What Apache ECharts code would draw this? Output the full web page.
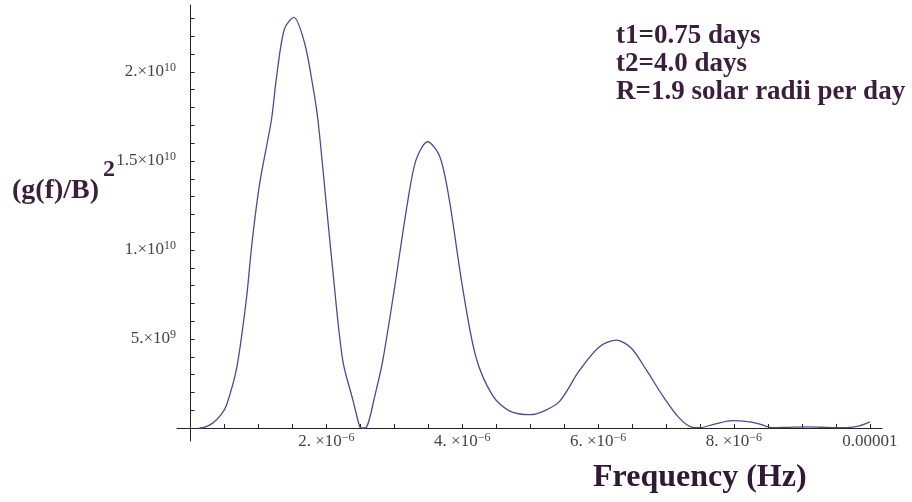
<!DOCTYPE html>
<html>
<head>
<meta charset="utf-8">
<script src="https://cdn.jsdelivr.net/npm/echarts@6/dist/echarts.min.js"></script>
<style>
  html, body { margin: 0; padding: 0; background: #fff; }
</style>
</head>
<body>
<div id="spectrum" style="width: 912px; height: 502px;"></div>
<script>
// frequency in units of 1e-6 Hz, power in units of 1e9
const freqMicroHz = [0.13, 0.2, 0.32, 0.45, 0.53, 0.68, 0.82, 0.91, 1.02, 1.19, 1.26, 1.38, 1.52, 1.68, 1.8, 1.875,
    2.0, 2.1, 2.24, 2.39, 2.49, 2.52, 2.59, 2.71, 2.83, 3.0, 3.2, 3.32, 3.49, 3.67, 3.81, 4.0, 4.2, 4.45, 4.7, 5.0,
    5.2, 5.43, 5.73, 6.02, 6.27, 6.49, 6.71, 6.96, 7.2, 7.39, 7.5, 7.7, 7.98, 8.2, 8.38, 8.57, 8.8, 9.1, 9.4, 9.66,
    9.85, 10.0];
const powerE9 = [0, 0.03, 0.26, 0.75, 1.29, 3.4, 7.2, 10.6, 13.8, 17.3, 19.55, 22.4, 23.07, 21.6, 19.2, 17.3,
    12.5, 8.6, 3.8, 1.57, 0.07, 0, 0.05, 1.76, 3.8, 7.8, 12.8, 15.06, 16.08, 15.24, 12.8, 8.0, 4.0, 1.8, 0.95, 0.75,
    0.95, 1.48, 3.26, 4.57, 4.94, 4.48, 3.26, 1.76, 0.54, 0.04, 0.02, 0.2, 0.41, 0.36, 0.22, 0.02, 0.04, 0.06, 0.03, 0.02,
    0.12, 0.34];

const xTickValues = [0.5, 1, 1.5, 2, 2.5, 3, 3.5, 4, 4.5, 5, 5.5, 6, 6.5, 7, 7.5, 8, 8.5, 9, 9.5, 10];
const xLabelValues = [2, 4, 6, 8, 10];
const xLabelText = [['2. ×10', '−6'], ['4. ×10', '−6'], ['6. ×10', '−6'], ['8. ×10', '−6'], ['0.00001', '']];

const yTickValues = [1, 2, 3, 4, 5, 6, 7, 8, 9, 10, 11, 12, 13, 14, 15, 16, 17, 18, 19, 20, 21, 22, 23];
const yLabelValues = [5, 10, 15, 20];
const yLabelText = [['5.×10', '9'], ['1.×10', '10'], ['1.5×10', '10'], ['2.×10', '10']];

const notes = ['t1=0.75 days', 't2=4.0 days', 'R=1.9 solar radii per day'];

function labelFor(values, texts, v) {
    let i = values.findIndex(t => Math.abs(t - v) < 1e-6);
    if (i < 0) return '';
    return '{m|' + texts[i][0] + '}' + (texts[i][1] ? '{s|' + texts[i][1] + '}' : '');
}

const tickRich = {
    m: { fontFamily: 'Liberation Serif', fontSize: 17, color: '#444', lineHeight: 20, verticalAlign: 'middle' },
    s: { fontFamily: 'Liberation Serif', fontSize: 12, color: '#444', lineHeight: 12, verticalAlign: 'top' }
};

const option = {
    animation: false,
    grid: { left: 177, right: 30, top: 5, bottom: 61 },
    xAxis: {
        type: 'value',
        min: -0.2,
        max: 10.18,
        splitLine: { show: false },
        axisLine: { onZero: true, lineStyle: { color: '#222', width: 1 } },
        axisTick: { inside: true, length: 4, customValues: xTickValues, lineStyle: { color: '#222' } },
        axisLabel: {
            customValues: xLabelValues,
            margin: -9,
            formatter: v => labelFor(xLabelValues, xLabelText, v),
            rich: tickRich
        }
    },
    yAxis: {
        type: 'value',
        min: -0.73,
        max: 23.76,
        splitLine: { show: false },
        axisLine: { onZero: true, lineStyle: { color: '#222', width: 1 } },
        axisTick: { inside: true, length: 4, customValues: yTickValues, lineStyle: { color: '#222' } },
        axisLabel: {
            customValues: yLabelValues,
            margin: 1,
            formatter: v => labelFor(yLabelValues, yLabelText, v),
            rich: tickRich
        }
    },
    series: [
        {
            type: 'line',
            data: freqMicroHz.map((f, i) => [f, powerE9[i]]),
            smooth: 0.3,
            showSymbol: false,
            lineStyle: { color: '#4b4b8f', width: 1.3 }
        }
    ],
    graphic: [
        {
            type: 'text', left: 12, top: 177,
            style: { text: '(g(f)/B)', font: 'bold 28px "Liberation Serif"', fill: '#3a1f3c' }
        },
        {
            type: 'text', left: 103, top: 158,
            style: { text: '2', font: 'bold 24px "Liberation Serif"', fill: '#3a1f3c' }
        },
        {
            type: 'text', left: 593, top: 462,
            style: { text: 'Frequency (Hz)', font: 'bold 32px "Liberation Serif"', fill: '#2e1a33' }
        },
        {
            type: 'text', left: 616, top: 22,
            style: { text: notes.join('\n'), font: 'bold 27px "Liberation Serif"', lineHeight: 28, fill: '#3a1f3c' }
        }
    ]
};

let chart = echarts.init(document.getElementById('spectrum'));
chart.setOption(option);
window.onresize = function () {
    chart.resize();
};
</script>
</body>
</html>
